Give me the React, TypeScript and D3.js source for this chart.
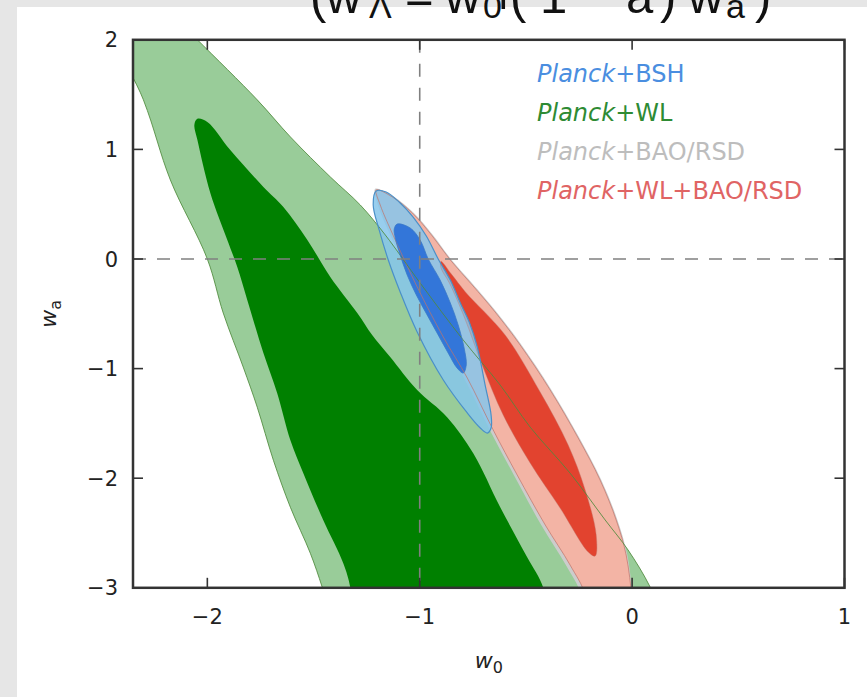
import React from 'react';
import * as d3 from 'd3';

type Pt = [number, number];

const W = 867;
const H = 697;

const xDomain: [number, number] = [-2.35, 1];
const yDomain: [number, number] = [-3, 2];
const xTicks = [-2, -1, 0, 1];
const yTicks = [-3, -2, -1, 0, 1, 2];
const xTickLabels = ['−2', '−1', '0', '1'];
const yTickLabels = ['−3', '−2', '−1', '0', '1', '2'];

// Title pieces: text, x position, subscript flag
const titleText = ['(', 'w', 'Λ', '=', 'w', '0', '+', '(', '1', '−', 'a', ')', 'w', 'a', ')'];
const titleX = [310, 326, 369, 405, 445, 483, 489, 510, 540, 578, 626, 660, 688, 726, 755];
const titleSub = [false, false, true, false, false, true, false, false, false, false, false, false, false, true, false];

// Planck+WL 2-sigma (light green)
const wlOuter: Pt[] = [
  [-2.33, 2.55], [-2.056, 2.018], [-1.765, 1.452], [-1.609, 1.114], [-1.421, 0.749],
  [-1.28, 0.493], [-1.162, 0.219], [-0.998, -0.219], [-0.795, -0.74], [-0.621, -1.151],
  [-0.48, -1.534], [-0.292, -1.954], [-0.127, -2.381], [-0.019, -2.655], [0.085, -2.993],
  [0.169, -3.388], [-1.398, -3.388], [-1.459, -2.995], [-1.515, -2.685], [-1.609, -2.265],
  [-1.689, -1.836], [-1.765, -1.352], [-1.831, -0.986], [-1.925, -0.493], [-2.0, 0.0],
  [-2.174, 0.721], [-2.301, 1.452], [-2.551, 2.548],
];

// Planck+WL 1-sigma (dark green)
const wlInner: Pt[] = [
  [-2.047, 1.279], [-2.0, 1.251], [-1.892, 0.995], [-1.736, 0.658], [-1.642, 0.475],
  [-1.529, 0.174], [-1.421, -0.164], [-1.294, -0.493], [-1.224, -0.694], [-1.139, -0.895],
  [-1.012, -1.196], [-0.871, -1.443], [-0.748, -1.772], [-0.621, -2.265], [-0.494, -2.721],
  [-0.419, -2.995], [-0.386, -3.388], [-1.304, -3.388], [-1.327, -2.995], [-1.36, -2.776],
  [-1.454, -2.384], [-1.548, -1.954], [-1.609, -1.653], [-1.671, -1.224], [-1.736, -0.858],
  [-1.812, -0.374], [-1.859, -0.073], [-1.906, 0.174], [-1.986, 0.603], [-2.047, 1.087],
  [-2.061, 1.224],
];

// Planck+BAO/RSD 2-sigma (grey)
const baoOuter: Pt[] = [
  [-1.21, 0.64], [-1.124, 0.571], [-1.03, 0.425], [-0.936, 0.215], [-0.851, -0.005],
  [-0.748, -0.232], [-0.64, -0.479], [-0.522, -0.78], [-0.381, -1.19], [-0.249, -1.628],
  [-0.146, -2.011], [-0.07, -2.376], [-0.023, -2.696], [0.004, -3.111], [0.014, -3.385],
  [-0.235, -3.385], [-0.24, -3.066], [-0.312, -2.792], [-0.428, -2.427], [-0.557, -1.971],
  [-0.67, -1.56], [-0.792, -1.086], [-0.905, -0.712], [-1.024, -0.255], [-1.128, 0.173],
  [-1.197, 0.493],
];

// Planck+WL+BAO/RSD 2-sigma (pink)
const combOuter: Pt[] = [
  [-1.205, 0.63], [-1.129, 0.566], [-1.035, 0.42], [-0.941, 0.21], [-0.856, -0.009],
  [-0.753, -0.237], [-0.645, -0.484], [-0.527, -0.785], [-0.386, -1.195], [-0.254, -1.633],
  [-0.151, -2.016], [-0.075, -2.381], [-0.028, -2.701], [0.0, -3.111], [0.009, -3.385],
  [-0.212, -3.385], [-0.221, -3.066], [-0.292, -2.792], [-0.409, -2.427], [-0.541, -1.971],
  [-0.654, -1.56], [-0.776, -1.086], [-0.889, -0.712], [-1.012, -0.255], [-1.115, 0.173],
  [-1.186, 0.493],
];

// Planck+WL+BAO/RSD 1-sigma (red)
const combInner: Pt[] = [
  [-0.9, -0.02], [-0.85, -0.14], [-0.785, -0.3], [-0.598, -0.693], [-0.433, -1.214],
  [-0.301, -1.697], [-0.221, -2.108], [-0.169, -2.518], [-0.174, -2.71], [-0.207, -2.673],
  [-0.339, -2.272], [-0.48, -1.861], [-0.607, -1.423], [-0.706, -0.967], [-0.79, -0.53],
  [-0.86, -0.22], [-0.9, -0.08],
];

// Planck+BSH 2-sigma (light blue)
const bshOuter: Pt[] = [
  [-1.205, 0.62], [-1.158, 0.611], [-1.092, 0.511], [-1.031, 0.383], [-0.969, 0.21],
  [-0.913, 0.0], [-0.856, -0.192], [-0.809, -0.401], [-0.767, -0.575], [-0.729, -0.803],
  [-0.692, -1.15], [-0.664, -1.423], [-0.664, -1.542], [-0.682, -1.588], [-0.715, -1.542],
  [-0.776, -1.405], [-0.889, -1.104], [-1.012, -0.666], [-1.092, -0.301], [-1.148, -0.009],
  [-1.191, 0.265], [-1.219, 0.493],
];

// Planck+BSH 1-sigma (dark blue)
const bshInner: Pt[] = [
  [-1.106, 0.319], [-1.045, 0.283], [-0.998, 0.173], [-0.96, 0.0], [-0.904, -0.192],
  [-0.856, -0.401], [-0.819, -0.602], [-0.791, -0.812], [-0.781, -0.967], [-0.795, -1.04],
  [-0.824, -0.995], [-0.866, -0.858], [-0.913, -0.693], [-0.965, -0.511], [-1.016, -0.328],
  [-1.059, -0.146], [-1.092, 0.036], [-1.115, 0.192], [-1.12, 0.274],
];

const legendLabels = ['+BSH', '+WL', '+BAO/RSD', '+WL+BAO/RSD'];
const legendColors = ['#4a8ee0', '#2e8b34', '#bdbdbd', '#e06464'];

export default function App() {
  const left = 133;
  const right = 844.5;
  const top = 39.8;
  const bottom = 587.8;
  const x = d3.scaleLinear().domain(xDomain).range([left, right]);
  const y = d3.scaleLinear().domain(yDomain).range([bottom, top]);
  const line = d3
    .line<Pt>()
    .x((d) => x(d[0]))
    .y((d) => y(d[1]))
    .curve(d3.curveCatmullRomClosed.alpha(0.5));

  const font = "'DejaVu Sans', sans-serif";
  const axisColor = '#333';

  return (
    <svg
      width={W}
      height={H}
      viewBox={`0 0 ${W} ${H}`}
      style={{ position: 'absolute', left: 0, top: 0, display: 'block' }}
    >
      <rect x={0} y={0} width={W} height={H} fill="#e6e6e6" />
      <rect x={17} y={7} width={W - 17} height={H - 7} fill="#ffffff" />

      <text fontFamily="'Liberation Sans', Arial, sans-serif" fill="#111">
        {titleText.map((t, i) => (
          <tspan
            key={'tt' + i}
            x={titleX[i]}
            y={titleSub[i] ? 18 : 13}
            fontSize={titleSub[i] ? 34 : 49}
          >
            {t}
          </tspan>
        ))}
      </text>

      <defs>
        <clipPath id="plotclip">
          <rect x={left} y={top} width={right - left} height={bottom - top} />
        </clipPath>
      </defs>

      <g clipPath="url(#plotclip)">
        <path d={line(wlOuter) || ''} fill="#99cc99" />
        <path d={line(wlInner) || ''} fill="#008000" />
        <path d={line(baoOuter) || ''} fill="#cccccc" />
        <path d={line(combOuter) || ''} fill="#f3b4a5" />
        <path d={line(combInner) || ''} fill="#e2432f" />
        <path d={line(bshOuter) || ''} fill="#86c5eb" fillOpacity={0.85} />
        <path d={line(bshInner) || ''} fill="#2a70d8" fillOpacity={0.92} />
        <path d={line(combOuter) || ''} fill="none" stroke="#c0736a" strokeOpacity={0.7} strokeWidth={1} />
        <path d={line(combInner) || ''} fill="none" stroke="#c0736a" strokeOpacity={0.5} strokeWidth={0.8} />
        <path d={line(wlOuter) || ''} fill="none" stroke="#4f8a3c" strokeOpacity={0.85} strokeWidth={1} />
        <path d={line(bshOuter) || ''} fill="none" stroke="#4a90c8" strokeWidth={1.2} />
        <path d={line(bshInner) || ''} fill="none" stroke="#3a78c8" strokeWidth={0.8} />

        <line x1={left} x2={right} y1={y(0)} y2={y(0)} stroke="#808080" strokeWidth={1.6} strokeDasharray="13,11" />
        <line x1={x(-1)} x2={x(-1)} y1={top} y2={bottom} stroke="#808080" strokeWidth={1.6} strokeDasharray="13,11" />
      </g>

      {xTicks.map((t) => (
        <g key={'xt' + t}>
          <line x1={x(t)} x2={x(t)} y1={bottom} y2={bottom - 10} stroke={axisColor} strokeWidth={1.6} />
          <line x1={x(t)} x2={x(t)} y1={top} y2={top + 10} stroke={axisColor} strokeWidth={1.6} />
        </g>
      ))}
      {yTicks.map((t) => (
        <g key={'yt' + t}>
          <line x1={left} x2={left + 10} y1={y(t)} y2={y(t)} stroke={axisColor} strokeWidth={1.6} />
          <line x1={right} x2={right - 10} y1={y(t)} y2={y(t)} stroke={axisColor} strokeWidth={1.6} />
        </g>
      ))}
      <rect x={left} y={top} width={right - left} height={bottom - top} fill="none" stroke={axisColor} strokeWidth={2.5} />

      {xTicks.map((t, i) => (
        <text key={'xl' + t} x={x(t)} y={624} textAnchor="middle" fontFamily={font} fontSize={21} fill="#222">
          {xTickLabels[i]}
        </text>
      ))}
      {yTicks.map((t, i) => (
        <text key={'yl' + t} x={118} y={y(t) + 7.5} textAnchor="end" fontFamily={font} fontSize={21} fill="#222">
          {yTickLabels[i]}
        </text>
      ))}

      <text x={(left + right) / 2} y={668} textAnchor="middle" fontFamily={font} fontSize={22} fill="#222">
        <tspan fontStyle="italic">w</tspan>
        <tspan fontSize={16} dy={5}>0</tspan>
      </text>
      <text
        transform={`translate(56, ${(top + bottom) / 2}) rotate(-90)`}
        textAnchor="middle"
        fontFamily={font}
        fontSize={22}
        fill="#222"
      >
        <tspan fontStyle="italic">w</tspan>
        <tspan fontSize={16} dy={5}>a</tspan>
      </text>

      {legendLabels.map((lab, i) => (
        <text key={lab} x={537} y={82 + i * 39} fontFamily={font} fontSize={24} fill={legendColors[i]}>
          <tspan fontStyle="italic">Planck</tspan>
          <tspan>{lab}</tspan>
        </text>
      ))}
    </svg>
  );
}
